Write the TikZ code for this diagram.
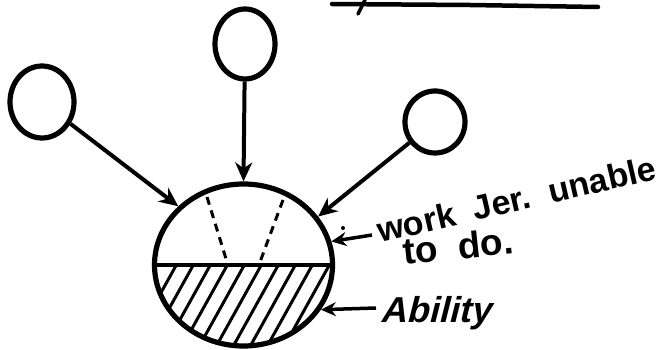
\documentclass[tikz,border=0pt]{standalone}
\usepackage{fontspec}
\newfontfamily\handfont{Liberation Sans}
\newfontfamily\handslant[FakeSlant=0.25]{Liberation Sans}
\usetikzlibrary{shapes.geometric,arrows.meta}
\begin{document}
\begin{tikzpicture}[x=1pt,y=-1pt,
  blob/.style={draw,ellipse,line width=5.2pt,inner sep=0pt},
  arr/.style={line width=4pt,-{Stealth[length=19pt,width=17pt,inset=6pt]}},
  smallarr/.style={line width=3.5pt,-{Stealth[length=15pt,width=14pt,inset=5pt]}},
  hatch/.style={line width=3pt},
  dashline/.style={line width=3pt,dash pattern=on 8pt off 6pt},
  label/.style={font=\handfont\bfseries\fontsize{34}{34}\selectfont,inner sep=0pt,anchor=base west},
  ablabel/.style={font=\handslant\bfseries\fontsize{36}{36}\selectfont,inner sep=0pt,anchor=base west}]
\useasboundingbox (0,0) rectangle (659,350);

% fragment at the top edge
\draw[line width=4.5pt,line cap=round] (332,4) -- (470,5) -- (598,7);
\draw[line width=3.5pt,line cap=round] (365,0) -- (358,14);

% small circles
\node[blob,minimum width=64pt,minimum height=72pt] (c1) at (42,102) {};
\node[blob,minimum width=60pt,minimum height=70pt] (c2) at (245,44) {};
\node[blob,minimum width=60pt,minimum height=62pt] (c3) at (435,122) {};

% big circle
\node[blob,minimum width=178pt,minimum height=162pt] (big) at (243.5,265) {};

% hatching of the lower half
\begin{scope}
  \clip (243.5,265) ellipse (89pt and 81pt);
  \clip (150,265) rectangle (340,350);
  \foreach \i in {128,145,...,330}{
    \draw[hatch] (\i,352) -- (\i+50,262);
  }
\end{scope}
\draw[line width=4.5pt] (big.west) -- (big.east);

% dashed lines in the upper half
\draw[dashline] (207,197) -- (227,262);
\draw[dashline] (283,200) -- (260,262);

% arrows from the small circles
\draw[arr] (c1) -- (big.138);
\draw[arr] (c2) -- (big.north);
\draw[arr] (c3) -- (big.33);

% labels
\node[label,rotate=13] (t1) at (380,243) {work\ \ Jer.\ \ unable};
\node[label,rotate=6,font=\handfont\bfseries\fontsize{37}{37}\selectfont] (t2) at (404,265) {to\ \ do.};
\node[ablabel] (t3) at (380,322) {Ability};

\coordinate (w1) at (372,235);
\draw[smallarr] (w1) -- (big.15);
\coordinate (a1) at (376,308);
\draw[smallarr] (a1) -- (big.-30);
\fill (343,228) circle (2pt);
\end{tikzpicture}
\end{document}
